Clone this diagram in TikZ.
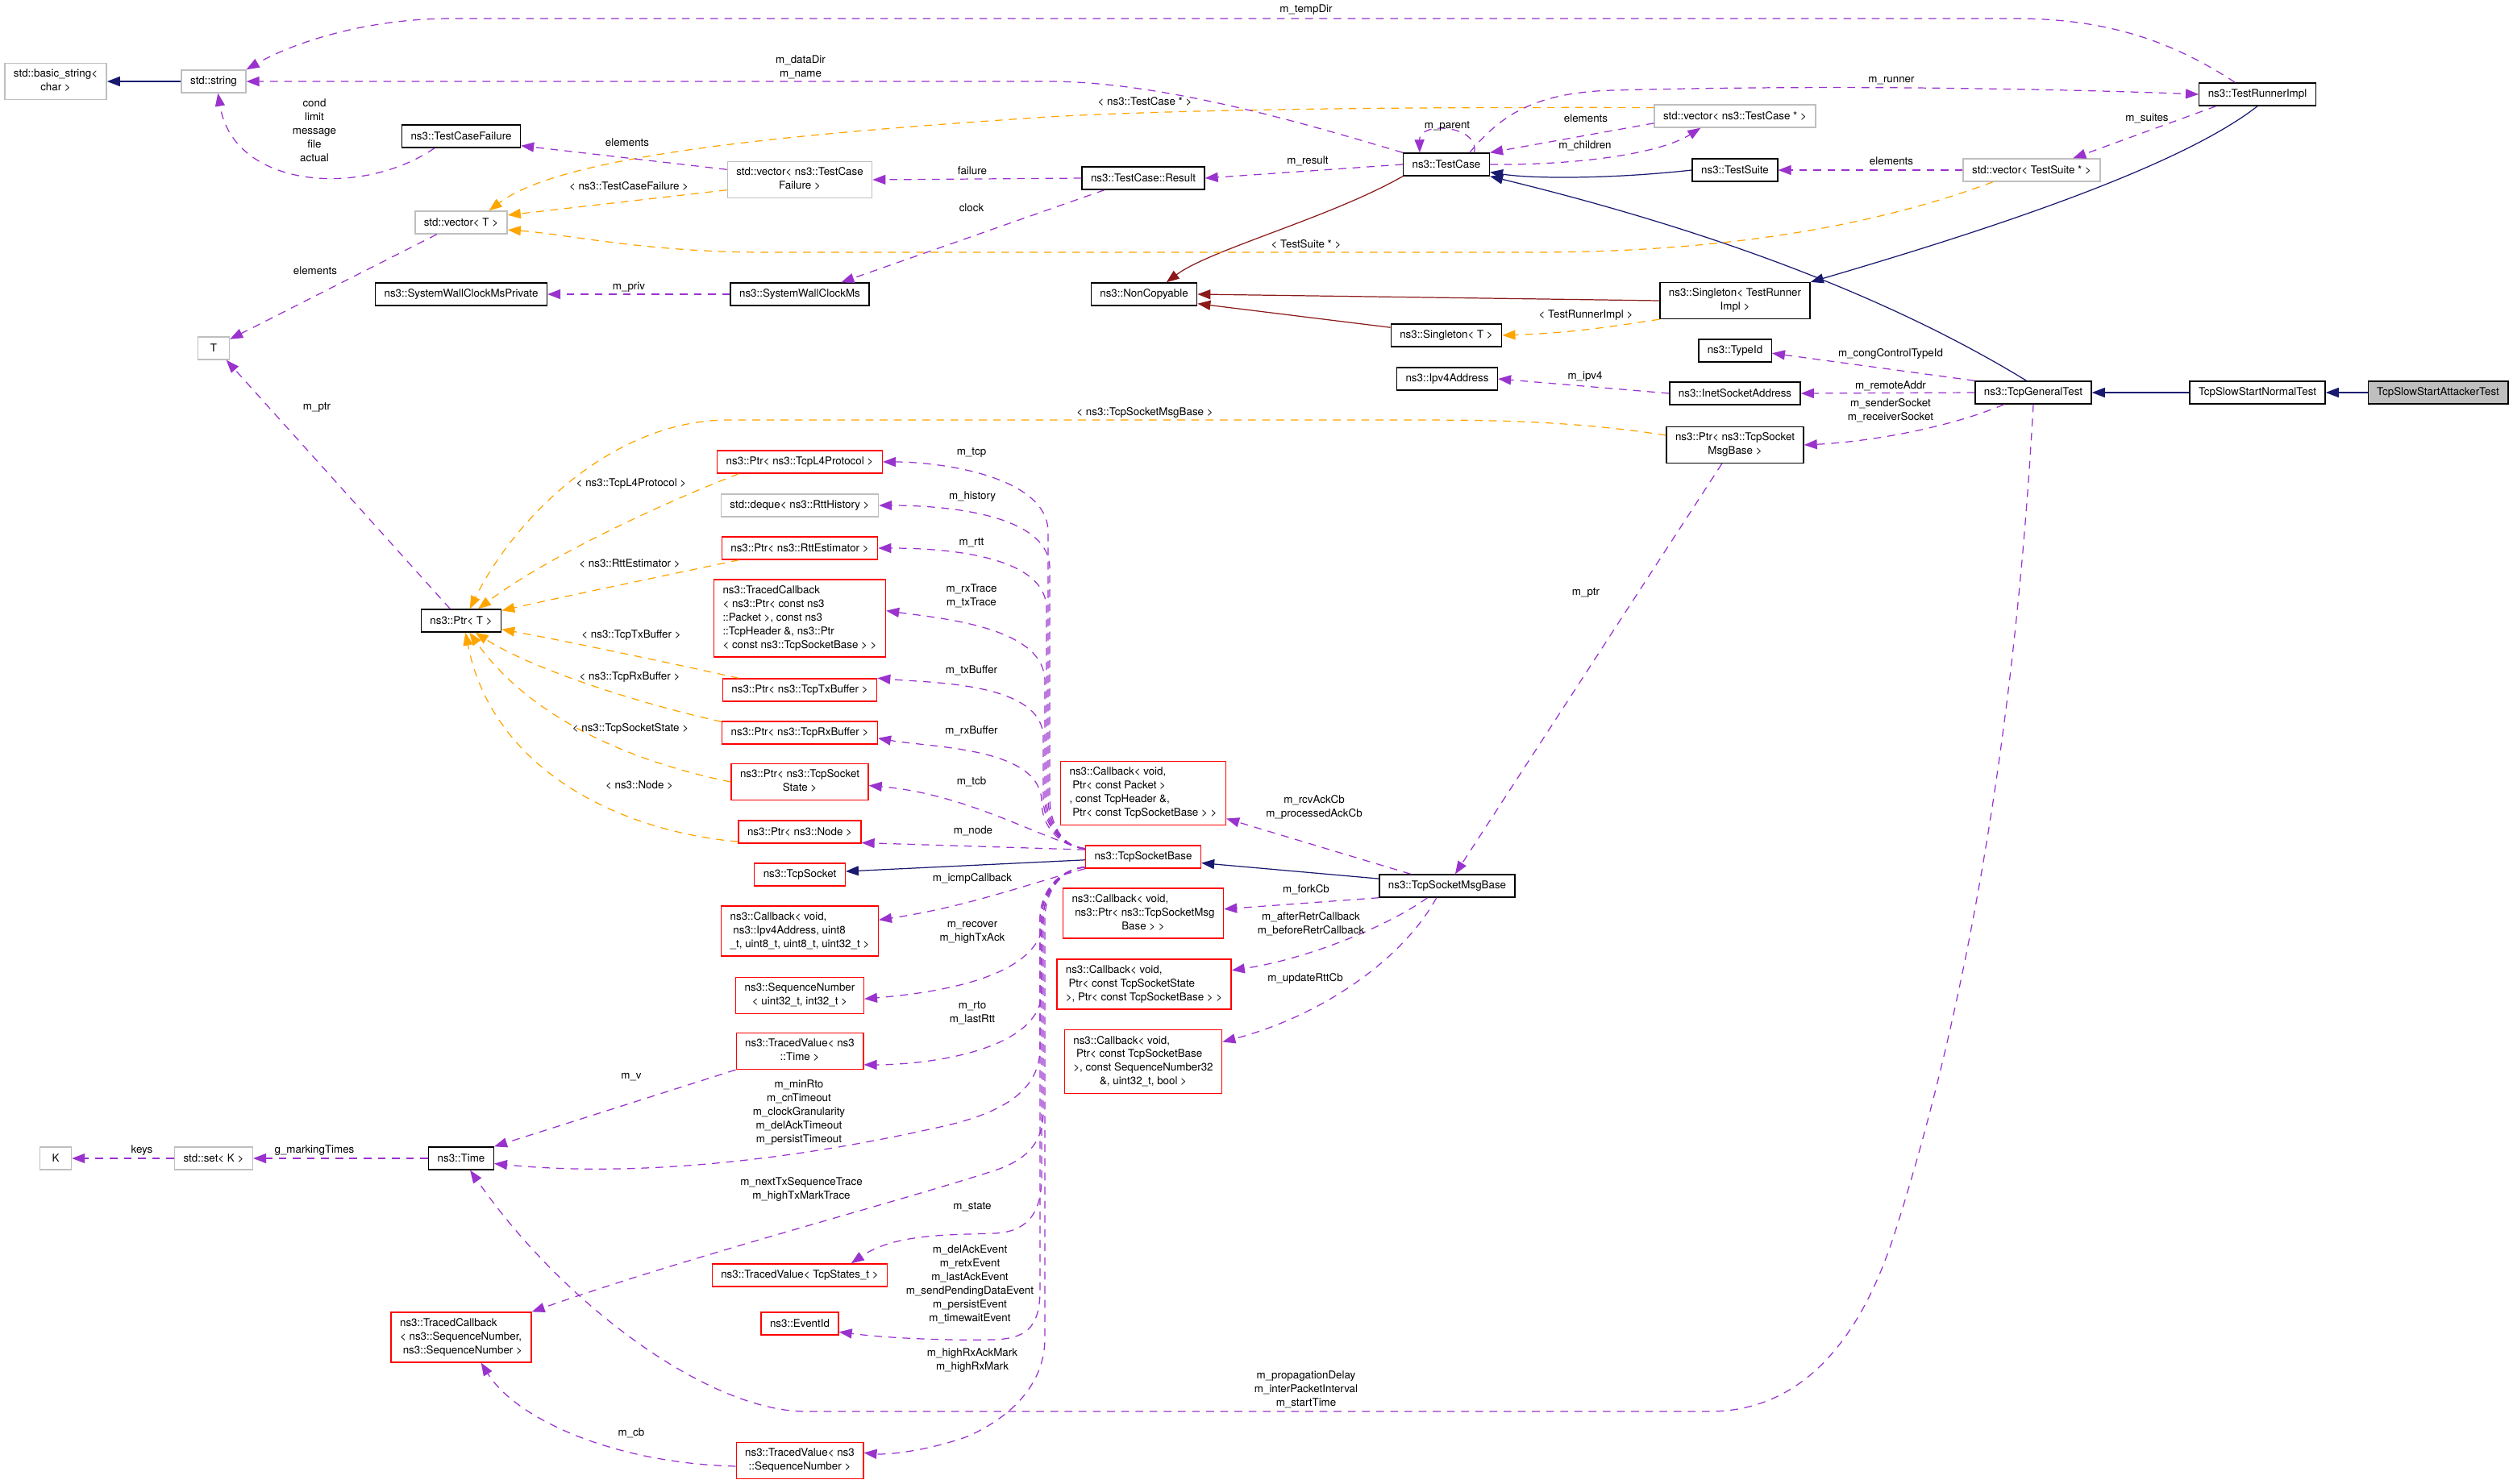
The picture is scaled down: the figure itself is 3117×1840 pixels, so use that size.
\documentclass[tikz,border=0pt]{standalone}
\usepackage{fontspec}
\setmainfont{TeX Gyre Heros}
\usetikzlibrary{arrows.meta}

\definecolor{usecol}{HTML}{9A32CD}
\definecolor{tplcol}{HTML}{FFA500}
\definecolor{inhcol}{HTML}{191970}
\definecolor{privcol}{HTML}{8B1A1A}
\definecolor{graybd}{HTML}{BFBFBF}
\definecolor{redbd}{HTML}{FF0000}

\newcommand{\diagfont}{\fontsize{7.6pt}{9.64pt}\selectfont}
\newcommand{\boxlines}[2]{\begin{tabular}{@{}l@{}}#1\\\multicolumn{1}{@{}c@{}}{#2}\end{tabular}}

\tikzset{
  cls/.style={draw=black, line width=0.8pt, font=\diagfont, inner xsep=0.22cm, inner ysep=0.11cm, minimum height=0.56cm},
  undoc/.style={cls, draw=graybd},
  trunc/.style={cls, draw=redbd},
  focus/.style={cls, fill=graybd},
  lbl/.style={font=\diagfont, inner sep=0pt, align=center},
  usage/.style={draw=usecol, line width=0.7pt, dash pattern=on 5.5pt off 4.5pt, -{Triangle[length=0.32cm,width=0.24cm]}},
  tpl/.style={usage, draw=tplcol},
  inh/.style={draw=inhcol, line width=0.7pt, -{Triangle[length=0.32cm,width=0.24cm]}},
  privinh/.style={inh, draw=privcol},
}

\begin{document}
\begin{tikzpicture}[x=0.02cm, y=-0.02cm]
  \path[use as bounding box, fill=white] (0,0) rectangle (3117,1840);

  % Classes, test framework
  \node[undoc] (bstr) at (69,101) {\boxlines{std::basic\_string<}{char >}};
  \node[undoc] (str) at (265,101) {std::string};
  \node[cls] (tcf) at (572,169) {ns3::TestCaseFailure};
  \node[undoc] (vecT) at (572,276) {std::vector< T >};
  \node[cls] (swcmp) at (572,365) {ns3::SystemWallClockMsPrivate};
  \node[undoc, minimum width=0.78cm] (T) at (265,432) {T};
  \node[undoc] (vectcf) at (992,223) {\boxlines{std::vector< ns3::TestCase}{Failure >}};
  \node[cls] (res) at (1418,221) {ns3::TestCase::Result};
  \node[cls] (swcm) at (992,365) {ns3::SystemWallClockMs};
  \node[cls] (noncp) at (1419,365) {ns3::NonCopyable};
  \node[cls] (tc) at (1794,204) {ns3::TestCase};
  \node[undoc] (vectc) at (2152,144) {std::vector< ns3::TestCase * >};
  \node[cls] (ts) at (2152,211) {ns3::TestSuite};
  \node[cls] (sgtri) at (2152,373) {\boxlines{ns3::Singleton< TestRunner}{Impl >}};
  \node[cls] (sgT) at (1794,416) {ns3::Singleton< T >};
  \node[cls] (tri) at (2800,117) {ns3::TestRunnerImpl};
  \node[undoc] (vects) at (2520,211) {std::vector< TestSuite * >};

  % Classes, tcp test
  \node[cls] (tid) at (2152,435) {ns3::TypeId};
  \node[cls] (ipv4) at (1795,470) {ns3::Ipv4Address};
  \node[cls] (inet) at (2152,488) {ns3::InetSocketAddress};
  \node[cls] (ptrmsg) at (2152,552) {\boxlines{ns3::Ptr< ns3::TcpSocket}{MsgBase >}};
  \node[cls] (gen) at (2522,487) {ns3::TcpGeneralTest};
  \node[cls] (normal) at (2800,487) {TcpSlowStartNormalTest};
  \node[focus] (attacker) at (3024,487) {TcpSlowStartAttackerTest};
  \node[cls] (ptrT) at (572,770) {ns3::Ptr< T >};
  \node[trunc] (ptrl4) at (992,573) {ns3::Ptr< ns3::TcpL4Protocol >};
  \node[undoc] (deque) at (992,627) {std::deque< ns3::RttHistory >};
  \node[trunc] (ptrrtt) at (992,680) {ns3::Ptr< ns3::RttEstimator >};
  \node[trunc] (tcbtrace) at (992,767) {\boxlines{ns3::TracedCallback\\< ns3::Ptr< const ns3\\::Packet >, const ns3\\::TcpHeader \&, ns3::Ptr}{< const ns3::TcpSocketBase > >}};
  \node[trunc] (ptrtx) at (992,856) {ns3::Ptr< ns3::TcpTxBuffer >};
  \node[trunc] (ptrrx) at (992,909) {ns3::Ptr< ns3::TcpRxBuffer >};
  \node[trunc] (ptrtss) at (992,970) {\boxlines{ns3::Ptr< ns3::TcpSocket}{State >}};
  \node[trunc] (ptrnode) at (992,1032) {ns3::Ptr< ns3::Node >};
  \node[trunc] (sock) at (992,1085) {ns3::TcpSocket};
  \node[trunc] (cbicmp) at (992,1155) {\boxlines{ns3::Callback< void,\\\ ns3::Ipv4Address, uint8}{\_t, uint8\_t, uint8\_t, uint32\_t >}};
  \node[trunc] (seqn) at (992,1235) {\boxlines{ns3::SequenceNumber}{< uint32\_t, int32\_t >}};
  \node[trunc] (tvtime) at (992,1304) {\boxlines{ns3::TracedValue< ns3}{::Time >}};
  \node[trunc] (tvstate) at (992,1582) {ns3::TracedValue< TcpStates\_t >};
  \node[trunc] (evid) at (992,1642) {ns3::EventId};
  \node[trunc] (tvseq) at (992,1812) {\boxlines{ns3::TracedValue< ns3}{::SequenceNumber >}};
  \node[trunc] (sockbase) at (1418,1063) {ns3::TcpSocketBase};
  \node[trunc] (cbpkt) at (1418,984) {\boxlines{ns3::Callback< void,\\\ Ptr< const Packet >\\, const TcpHeader \&,}{\ Ptr< const TcpSocketBase > >}};
  \node[trunc] (cbfork) at (1418,1133) {\boxlines{ns3::Callback< void,\\\ ns3::Ptr< ns3::TcpSocketMsg}{Base > >}};
  \node[trunc] (cbretr) at (1419,1221) {\boxlines{ns3::Callback< void,\\\ Ptr< const TcpSocketState}{>, Ptr< const TcpSocketBase > >}};
  \node[trunc] (cbrtt) at (1418,1317) {\boxlines{ns3::Callback< void,\\\ Ptr< const TcpSocketBase\\>, const SequenceNumber32}{\&, uint32\_t, bool >}};
  \node[cls] (msgbase) at (1795,1099) {ns3::TcpSocketMsgBase};
  \node[undoc, minimum width=0.78cm] (K) at (69,1437) {K};
  \node[undoc] (setK) at (265,1437) {std::set< K >};
  \node[cls] (time) at (572,1437) {ns3::Time};
  \node[trunc] (tcbseq) at (572,1659) {\boxlines{ns3::TracedCallback\\< ns3::SequenceNumber,}{\ ns3::SequenceNumber >}};

  % Inheritance
  \draw[inh] (str.west) -- (bstr.east);
  \draw[inh] (ts.west) .. controls (2000,222) and (1900,222) .. (tc.-10);
  \draw[inh] (gen.120) .. controls (2330,360) and (2100,280) .. (tc.south east);
  \draw[inh] (tri.south) .. controls (2700,210) and (2450,290) .. (sgtri.north east);
  \draw[inh] (normal.west) -- (gen.east);
  \draw[inh] (attacker.west) -- (normal.east);
  \draw[inh] (sockbase.183) -- (sock.4);
  \draw[inh] (msgbase.174) -- (sockbase.-6);
  \draw[privinh] (tc.south west) .. controls (1650,270) and (1500,310) .. (noncp.28);
  \draw[privinh] (sgtri.west) -- (noncp.east);
  \draw[privinh] (sgT.172) -- (noncp.-10);

  % Template instances
  \draw[tpl] (vectcf.188) -- (vecT.9);
  \draw[tpl] (vectc.174) .. controls (1800,133) and (1500,134) .. (1300,145) .. controls (1000,165) and (700,190) .. (vecT.23);
  \draw[tpl] (vects.197) .. controls (2300,290) and (2100,313) .. (1900,313) -- (950,313) .. controls (800,313) and (700,290) .. (vecT.-9);
  \draw[tpl] (sgtri.south west) .. controls (2000,405) and (1950,413) .. (sgT.east);
  \draw[tpl] (ptrmsg.172) .. controls (1950,522) and (1850,521) .. (1750,521) -- (900,521) .. controls (760,523) and (640,640) .. (ptrT.54);
  \draw[tpl] (ptrl4.191) .. controls (820,625) and (680,690) .. (ptrT.35);
  \draw[tpl] (ptrrtt.191) .. controls (820,715) and (700,740) .. (ptrT.14);
  \draw[tpl] (ptrtx.169) .. controls (820,820) and (700,795) .. (ptrT.-12);
  \draw[tpl] (ptrrx.172) .. controls (790,872) and (660,830) .. (ptrT.-40);
  \draw[tpl] (ptrtss.west) .. controls (760,940) and (650,880) .. (ptrT.-55);
  \draw[tpl] (ptrnode.189) .. controls (760,1030) and (610,950) .. (ptrT.-70);

  % Members, test framework
  \draw[usage] (tri.152) .. controls (2700,55) and (2620,23) .. (2500,23) -- (560,23) .. controls (450,23) and (360,55) .. (str.north east);
  \draw[usage] (tc.north west) .. controls (1640,160) and (1450,101) .. (1300,101) -- (str.east);
  \draw[usage] (tcf.204) .. controls (450,245) and (290,235) .. (str.-70);
  \draw[usage] (vectcf.172) -- (tcf.-9);
  \draw[usage] (res.west) -- (vectcf.east);
  \draw[usage] (res.197) -- (swcm.16);
  \draw[usage] (swcm.west) -- (swcmp.east);
  \draw[usage] (tc.west) -- (res.east);
  \draw[usage] (tc.23) .. controls (1835,155) and (1760,150) .. (tc.156);
  \draw[usage] (vectc.185) -- (tc.north east);
  \draw[usage] (tc.east) .. controls (1960,205) and (2060,190) .. (vectc.199);
  \draw[usage] (tc.27) .. controls (1860,145) and (1900,115) .. (2000,112) .. controls (2300,104) and (2600,112) .. (tri.west);
  \draw[usage] (vects.west) -- (ts.east);
  \draw[usage] (tri.196) -- (vects.16);
  \draw[usage] (vecT.206) -- (T.29);
  \draw[usage] (ptrT.133) -- (T.-43);

  % Members, tcp test
  \draw[usage] (gen.north west) -- (tid.-4);
  \draw[usage] (gen.west) -- (inet.east);
  \draw[usage] (inet.west) -- (ipv4.east);
  \draw[usage] (gen.202) .. controls (2420,530) and (2320,548) .. (ptrmsg.east);
  \draw[usage] (ptrmsg.-125) -- (msgbase.56);
  \draw[usage] (msgbase.162) -- (cbpkt.-17);
  \draw[usage] (msgbase.south west) -- (cbfork.3);
  \draw[usage] (msgbase.211) .. controls (1720,1150) and (1620,1190) .. (cbretr.9);
  \draw[usage] (msgbase.228) .. controls (1740,1190) and (1640,1260) .. (cbrtt.14);
  \draw[usage] (gen.south) .. controls (2500,900) and (2440,1250) .. (2350,1530) .. controls (2305,1670) and (2230,1751) .. (2120,1751) -- (1000,1751) .. controls (880,1751) and (700,1620) .. (time.-53);
  \draw[usage] (setK.west) -- (K.east);
  \draw[usage] (time.west) -- (setK.east);
  \draw[usage] (tvtime.south west) -- (time.north east);
  \draw[usage] (tvseq.185) .. controls (760,1815) and (640,1760) .. (tcbseq.-52);

  % Members of TcpSocketBase, upward
  \draw[usage] (sockbase.172) to[out=175,in=-90] (1300,990) -- (1300,660) to[out=90,in=0,looseness=0.8] (ptrl4.east);
  \draw[usage] (sockbase.172) to[out=175,in=-90] (1302,990) -- (1302,705) to[out=90,in=0,looseness=0.8] (deque.east);
  \draw[usage] (sockbase.172) to[out=175,in=-90] (1298,990) -- (1298,755) to[out=90,in=0,looseness=0.8] (ptrrtt.east);
  \draw[usage] (sockbase.172) to[out=175,in=-90] (1296,990) -- (1296,845) to[out=90,in=-8,looseness=0.8] (tcbtrace.5);
  \draw[usage] (sockbase.172) to[out=175,in=-90] (1294,990) -- (1294,915) to[out=90,in=-5,looseness=0.8] (ptrtx.north east);
  \draw[usage] (sockbase.172) to[out=175,in=-90] (1292,995) to[out=90,in=-10,looseness=0.8] (ptrrx.-4);
  \draw[usage] (sockbase.172) .. controls (1290,1040) and (1200,985) .. (ptrtss.-3);
  \draw[usage] (sockbase.173) -- (ptrnode.-10);

  % Members of TcpSocketBase, downward
  \draw[usage] (sockbase.south west) .. controls (1280,1095) and (1200,1125) .. (cbicmp.8);
  \draw[usage] (sockbase.190) to[out=185,in=90] (1294,1140) to[out=-90,in=5,looseness=0.8] (seqn.-3);
  \draw[usage] (sockbase.190) to[out=185,in=90] (1292,1140) -- (1292,1230) to[out=-90,in=0,looseness=0.8] (tvtime.-12);
  \draw[usage] (sockbase.190) to[out=185,in=90] (1290,1140) -- (1290,1300) .. controls (1290,1360) and (1230,1385) .. (1157,1400) .. controls (1000,1435) and (800,1462) .. (time.-9);
  \draw[usage] (sockbase.190) to[out=185,in=90] (1294,1140) -- (1294,1380) .. controls (1294,1420) and (1270,1440) .. (1234,1452) .. controls (1100,1495) and (850,1560) .. (tcbseq.north east);
  \draw[usage] (sockbase.190) to[out=185,in=90] (1292,1140) -- (1292,1460) .. controls (1292,1510) and (1270,1528) .. (1234,1530) .. controls (1180,1532) and (1110,1530) .. (tvstate.13);
  \draw[usage] (sockbase.190) to[out=185,in=90] (1290,1140) -- (1290,1600) .. controls (1290,1650) and (1270,1661) .. (1230,1662) .. controls (1170,1663) and (1100,1660) .. (evid.-12);
  \draw[usage] (sockbase.190) to[out=185,in=90] (1296,1140) -- (1296,1660) .. controls (1296,1720) and (1250,1760) .. (1200,1782) .. controls (1150,1800) and (1100,1805) .. (tvseq.7);

  % Edge labels
  \node[lbl] (l-tempdir) at (1620,12) {m\_tempDir};
  \node[lbl] (l-datadir) at (993,83.5) {m\_dataDir\\m\_name};
  \node[lbl] (l-cond) at (390,162) {cond\\limit\\message\\file\\actual};
  \node[lbl] (l-eltcf) at (778,177) {elements};
  \node[lbl] (l-tpltcf) at (780,231) {< ns3::TestCaseFailure >};
  \node[lbl] (l-tpltc) at (1420,126) {< ns3::TestCase * >};
  \node[lbl] (l-tplts) at (1620,303) {< TestSuite * >};
  \node[lbl] (l-failure) at (1206,212) {failure};
  \node[lbl] (l-clock) at (1205,258) {clock};
  \node[lbl] (l-priv) at (780,356) {m\_priv};
  \node[lbl] (l-result) at (1622,200) {m\_result};
  \node[lbl] (l-parent) at (1795,156) {m\_parent};
  \node[lbl] (l-eltc) at (1967,147) {elements};
  \node[lbl] (l-children) at (1966,181) {m\_children};
  \node[lbl] (l-runner) at (2346,100) {m\_runner};
  \node[lbl] (l-elts) at (2346,200) {elements};
  \node[lbl] (l-suites) at (2663,147) {m\_suites};
  \node[lbl] (l-tpltri) at (1967,391) {< TestRunnerImpl >};
  \node[lbl] (l-congctl) at (2345,439) {m\_congControlTypeId};
  \node[lbl] (l-remote) at (2345,479) {m\_remoteAddr};
  \node[lbl] (l-sockets) at (2345,509.5) {m\_senderSocket\\m\_receiverSocket};
  \node[lbl] (l-ipv4) at (1966,467) {m\_ipv4};
  \node[lbl] (l-tplmsg) at (1420,512) {< ns3::TcpSocketMsgBase >};
  \node[lbl] (l-ptrmsg) at (1967,735) {m\_ptr};
  \node[lbl] (l-elt) at (391,336) {elements};
  \node[lbl] (l-ptrt) at (393,505) {m\_ptr};
  \node[lbl] (l-tpll4) at (783,600) {< ns3::TcpL4Protocol >};
  \node[lbl] (l-tplrtt) at (781,699) {< ns3::RttEstimator >};
  \node[lbl] (l-tpltx) at (783,788) {< ns3::TcpTxBuffer >};
  \node[lbl] (l-tplrx) at (781,840) {< ns3::TcpRxBuffer >};
  \node[lbl] (l-tpltss) at (782,904) {< ns3::TcpSocketState >};
  \node[lbl] (l-tplnode) at (793,974) {< ns3::Node >};
  \node[lbl] (l-tcp) at (1205,561) {m\_tcp};
  \node[lbl] (l-history) at (1206,616) {m\_history};
  \node[lbl] (l-rtt) at (1205,673) {m\_rtt};
  \node[lbl] (l-trace) at (1205,739.5) {m\_rxTrace\\m\_txTrace};
  \node[lbl] (l-txbuf) at (1205,832) {m\_txBuffer};
  \node[lbl] (l-rxbuf) at (1205,907) {m\_rxBuffer};
  \node[lbl] (l-tcb) at (1205,970) {m\_tcb};
  \node[lbl] (l-node) at (1207,1031) {m\_node};
  \node[lbl] (l-icmp) at (1206,1090) {m\_icmpCallback};
  \node[lbl] (l-recover) at (1206,1157) {m\_recover\\m\_highTxAck};
  \node[lbl] (l-rto) at (1206,1257) {m\_rto\\m\_lastRtt};
  \node[lbl] (l-timeouts) at (991,1380) {m\_minRto\\m\_cnTimeout\\m\_clockGranularity\\m\_delAckTimeout\\m\_persistTimeout};
  \node[lbl] (l-seqtrace) at (994,1475.5) {m\_nextTxSequenceTrace\\m\_highTxMarkTrace};
  \node[lbl] (l-state) at (1206,1497) {m\_state};
  \node[lbl] (l-events) at (1203,1593.5) {m\_delAckEvent\\m\_retxEvent\\m\_lastAckEvent\\m\_sendPendingDataEvent\\m\_persistEvent\\m\_timewaitEvent};
  \node[lbl] (l-rxmark) at (1206,1687.5) {m\_highRxAckMark\\m\_highRxMark};
  \node[lbl] (l-ackcb) at (1630,1001) {m\_rcvAckCb\\m\_processedAckCb};
  \node[lbl] (l-fork) at (1620,1104) {m\_forkCb};
  \node[lbl] (l-retr) at (1626,1146) {m\_afterRetrCallback\\m\_beforeRetrCallback};
  \node[lbl] (l-updrtt) at (1619,1214) {m\_updateRttCb};
  \node[lbl] (l-gentime) at (1620,1724) {m\_propagationDelay\\m\_interPacketInterval\\m\_startTime};
  \node[lbl] (l-mv) at (783,1336) {m\_v};
  \node[lbl] (l-keys) at (176,1427) {keys};
  \node[lbl] (l-marking) at (390,1427) {g\_markingTimes};
  \node[lbl] (l-cb) at (783,1778) {m\_cb};
\end{tikzpicture}
\end{document}
